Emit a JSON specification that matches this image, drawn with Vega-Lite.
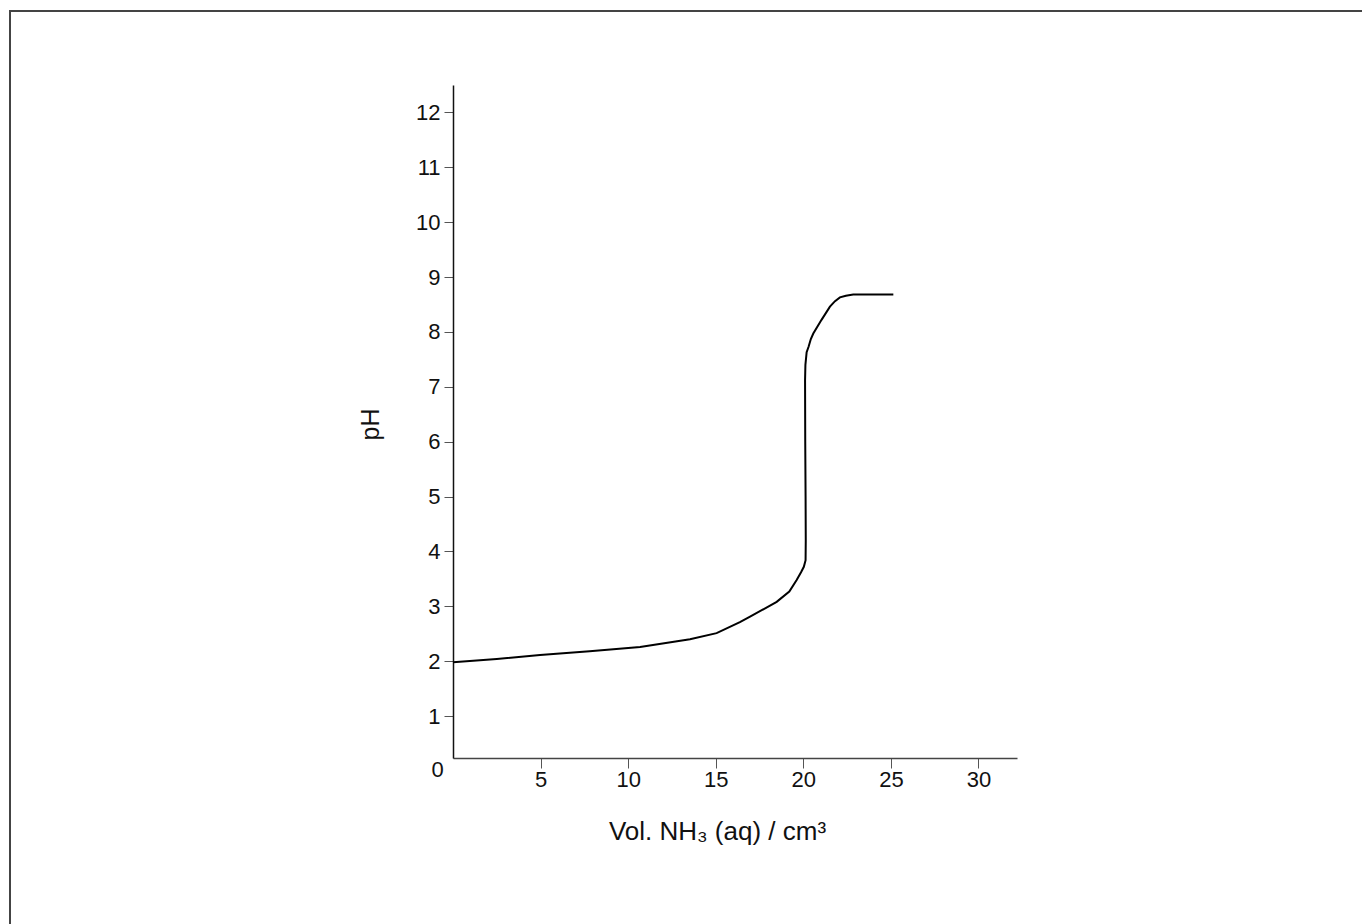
{
  "$schema": "https://vega.github.io/schema/vega-lite/v6.json",
  "autosize": {"type": "none"},
  "padding": {"left": 10, "top": 11, "right": -10, "bottom": -27},
  "width": 1362,
  "height": 940,
  "background": "white",
  "config": {
    "view": {"stroke": "#444", "strokeWidth": 2},
    "font": "Liberation Sans"
  },
  "encoding": {
    "x": {
      "field": "vol",
      "type": "quantitative",
      "scale": {"domain": [0, 32.2], "range": [443, 1007], "nice": false, "zero": false},
      "axis": {
        "values": [5, 10, 15, 20, 25, 30],
        "offset": -193,
        "grid": false,
        "title": "Vol. NH₃ (aq) / cm³",
        "titleX": 707,
        "titleY": 81,
        "titleAlign": "center",
        "titleAnchor": null,
        "titleBaseline": "alphabetic",
        "titleFontSize": 26,
        "titleFontWeight": "normal",
        "titleColor": "#111",
        "labelFontSize": 22,
        "labelColor": "#111",
        "labelPadding": 1,
        "labelFlush": false,
        "labelOverlap": false,
        "tickSize": 10,
        "tickColor": "#555",
        "domainColor": "#444",
        "domainWidth": 1.5
      }
    },
    "y": {
      "field": "pH",
      "type": "quantitative",
      "scale": {"domain": [0.235, 12.5], "range": [747, 74], "nice": false, "zero": false},
      "axis": {
        "values": [1, 2, 3, 4, 5, 6, 7, 8, 9, 10, 11, 12],
        "offset": -443,
        "grid": false,
        "title": "pH",
        "titleX": -83,
        "titleY": 413,
        "titleAngle": -90,
        "titleAlign": "center",
        "titleAnchor": null,
        "titleBaseline": "middle",
        "titleFontSize": 25,
        "titleFontWeight": "normal",
        "titleColor": "#111",
        "labelFontSize": 22,
        "labelColor": "#111",
        "labelPadding": 4,
        "labelFlush": false,
        "labelOverlap": false,
        "tickSize": 9,
        "tickColor": "#555",
        "domainColor": "#111",
        "domainWidth": 1.5
      }
    }
  },
  "layer": [
    {
      "data": {
        "values": [
          {"vol": 0, "pH": 1.98},
          {"vol": 2.5, "pH": 2.04},
          {"vol": 4.97, "pH": 2.11},
          {"vol": 7.8, "pH": 2.18},
          {"vol": 10.68, "pH": 2.26},
          {"vol": 13.53, "pH": 2.4},
          {"vol": 15.05, "pH": 2.51},
          {"vol": 16.38, "pH": 2.71},
          {"vol": 16.96, "pH": 2.81},
          {"vol": 18.48, "pH": 3.08},
          {"vol": 19.2, "pH": 3.27},
          {"vol": 19.62, "pH": 3.48},
          {"vol": 19.87, "pH": 3.62},
          {"vol": 20.03, "pH": 3.72},
          {"vol": 20.13, "pH": 3.84},
          {"vol": 20.14, "pH": 4.2},
          {"vol": 20.13, "pH": 5.0},
          {"vol": 20.11, "pH": 6.0},
          {"vol": 20.1, "pH": 7.12},
          {"vol": 20.12, "pH": 7.4},
          {"vol": 20.19, "pH": 7.63},
          {"vol": 20.3, "pH": 7.73},
          {"vol": 20.43, "pH": 7.87},
          {"vol": 20.57, "pH": 7.97},
          {"vol": 21.04, "pH": 8.22},
          {"vol": 21.52, "pH": 8.46},
          {"vol": 21.81, "pH": 8.56},
          {"vol": 22.09, "pH": 8.63},
          {"vol": 22.43, "pH": 8.66},
          {"vol": 22.85, "pH": 8.68},
          {"vol": 25.14, "pH": 8.68}
        ]
      },
      "mark": {"type": "line", "color": "black", "strokeWidth": 2, "clip": false},
      "encoding": {"order": {"value": null}}
    },
    {
      "data": {"values": [{"vol": 0, "pH": 0.235, "label": "0"}]},
      "mark": {
        "type": "text",
        "dx": -15.5,
        "dy": 12,
        "fontSize": 22,
        "font": "Liberation Sans",
        "color": "#111",
        "align": "center",
        "baseline": "middle"
      },
      "encoding": {"text": {"field": "label"}}
    }
  ]
}
